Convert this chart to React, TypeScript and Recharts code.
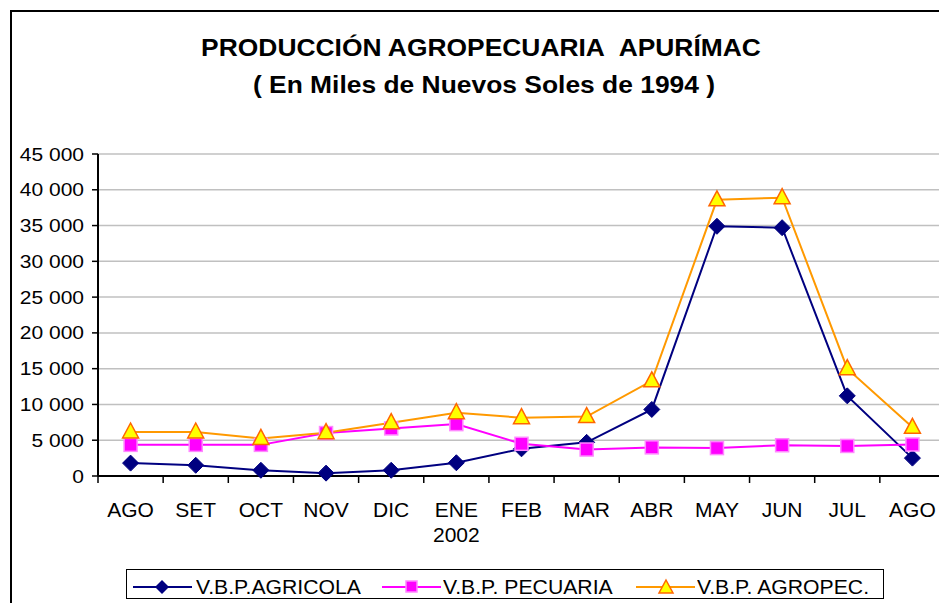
import React from "react";
import { LineChart, Line, XAxis, YAxis, CartesianGrid } from "recharts";

const months = ["AGO", "SET", "OCT", "NOV", "DIC", "ENE", "FEB", "MAR", "ABR", "MAY", "JUN", "JUL", "AGO"];
const subLabels = ["", "", "", "", "", "2002", "", "", "", "", "", "", ""];
const agricola = [1800, 1500, 800, 400, 800, 1850, 3800, 4700, 9300, 34900, 34700, 11200, 2500];
const pecuaria = [4350, 4350, 4350, 6000, 6650, 7250, 4500, 3700, 4000, 3900, 4300, 4200, 4400];
const agropec = [6150, 6150, 5250, 6050, 7450, 8850, 8150, 8300, 13300, 38600, 38900, 15000, 6800];
const yTicks = [0, 5000, 10000, 15000, 20000, 25000, 30000, 35000, 40000, 45000];

const data = months.map((m, i) => ({
  idx: i,
  month: m,
  sub: subLabels[i],
  agricola: agricola[i],
  pecuaria: pecuaria[i],
  agropec: agropec[i],
}));

const FONT = '"Liberation Sans", Arial, sans-serif';

const fmt = (v: number) => {
  if (v === 0) return "0";
  const s = String(v);
  return s.slice(0, s.length - 3) + " " + s.slice(-3);
};

const Diamond = (props: any) => {
  const { cx, cy } = props;
  if (cx == null || cy == null) return null;
  const r = 8;
  return <polygon points={`${cx},${cy - r} ${cx + r},${cy} ${cx},${cy + r} ${cx - r},${cy}`} fill="#000080" stroke="#000080" />;
};

const Square = (props: any) => {
  const { cx, cy } = props;
  if (cx == null || cy == null) return null;
  const s = 6.5;
  return <rect x={cx - s} y={cy - s} width={s * 2} height={s * 2} fill="#FF00FF" stroke="#FF88FF" strokeWidth={1.5} />;
};

const Triangle = (props: any) => {
  const { cx, cy } = props;
  if (cx == null || cy == null) return null;
  return <polygon points={`${cx},${cy - 9} ${cx + 8},${cy + 6} ${cx - 8},${cy + 6}`} fill="#FFFF00" stroke="#FF6600" strokeWidth={1.5} />;
};

const YTick = (props: any) => {
  const { x, y, payload } = props;
  return (
    <text transform={`translate(${x},${y + 6.5}) scale(1.2,1)`} textAnchor="end" fontSize={17.5} fontFamily={FONT} fill="#000">
      {fmt(payload.value)}
    </text>
  );
};

const XTick = (props: any) => {
  const { x, y, payload, index, width } = props;
  const half = (width || 847) / 26;
  const axisY = y - 8;
  const i = payload.value;
  return (
    <g>
      <line x1={x - half} x2={x - half} y1={axisY} y2={axisY + 7} stroke="#000" strokeWidth={1.5} />
      {index === months.length - 1 && (
        <line x1={x + half} x2={x + half} y1={axisY} y2={axisY + 7} stroke="#000" strokeWidth={1.5} />
      )}
      <text x={x} y={axisY + 41} textAnchor="middle" fontSize={21} fontFamily={FONT} fill="#000">
        {months[i]}
      </text>
      {subLabels[i] && (
        <text x={x} y={axisY + 66} textAnchor="middle" fontSize={21} fontFamily={FONT} fill="#000">
          {subLabels[i]}
        </text>
      )}
    </g>
  );
};

const legendItems = [
  { label: "V.B.P.AGRICOLA", color: "#000080", mark: "diamond", x: 133, tx: 196 },
  { label: "V.B.P. PECUARIA", color: "#FF00FF", mark: "square", x: 382, tx: 443 },
  { label: "V.B.P. AGROPEC.", color: "#FF9900", mark: "triangle", x: 636, tx: 697 },
];

const LegendMark = ({ mark, color }: { mark: string; color: string }) => (
  <svg width={59} height={20} style={{ position: "absolute", top: 0 }}>
    <line x1={0} x2={59} y1={10} y2={10} stroke={color} strokeWidth={2} />
    {mark === "diamond" && <polygon points="29,3 36,10 29,17 22,10" fill="#000080" />}
    {mark === "square" && <rect x={24} y={4} width={11} height={11} fill="#FF00FF" stroke="#FF88FF" strokeWidth={1.5} />}
    {mark === "triangle" && <polygon points="30,3 37,16 23,16" fill="#FFFF00" stroke="#FF6600" strokeWidth={1.5} />}
  </svg>
);

export default function App() {
  return (
    <div style={{ position: "fixed", left: 0, top: 0, width: 939, height: 603, overflow: "hidden", background: "#fff" }}>
      <div style={{ position: "absolute", left: 10, top: 10, width: 960, height: 640, border: "2px solid #000", boxSizing: "border-box" }} />
      <div style={{ position: "absolute", left: 0, width: 962, top: 36, textAlign: "center", fontFamily: FONT, fontWeight: "bold", fontSize: 24, lineHeight: "24px", transform: "scaleX(1.1)", transformOrigin: "481px 0" }}>
        PRODUCCIÓN AGROPECUARIA&nbsp; APURÍMAC
      </div>
      <div style={{ position: "absolute", left: 0, width: 968, top: 73, textAlign: "center", fontFamily: FONT, fontWeight: "bold", fontSize: 24, lineHeight: "24px", transform: "scaleX(1.1)", transformOrigin: "484px 0" }}>
        ( En Miles de Nuevos Soles de 1994 )
      </div>
      <div style={{ position: "absolute", left: 0, top: 0 }}>
        <LineChart width={955} height={603} data={data} margin={{ top: 154, right: 10, bottom: 67, left: 0 }}>
          <CartesianGrid vertical={false} stroke="#c0c0c0" strokeWidth={1.5} />
          <XAxis
            dataKey="idx"
            type="number"
            domain={[-0.5, 12.5]}
            ticks={months.map((_, i) => i)}
            interval={0}
            height={60}
            tickLine={false}
            tickSize={8}
            tickMargin={0}
            axisLine={{ stroke: "#000", strokeWidth: 2 }}
            tick={<XTick />}
          />
          <YAxis
            width={98}
            domain={[0, 45000]}
            ticks={yTicks}
            interval={0}
            tickSize={6}
            tickMargin={8}
            tickLine={{ stroke: "#000", strokeWidth: 1.5 }}
            axisLine={{ stroke: "#000", strokeWidth: 2 }}
            tick={<YTick />}
          />
          <Line type="linear" dataKey="agricola" stroke="#000080" strokeWidth={2} dot={<Diamond />} isAnimationActive={false} />
          <Line type="linear" dataKey="pecuaria" stroke="#FF00FF" strokeWidth={2} dot={<Square />} isAnimationActive={false} />
          <Line type="linear" dataKey="agropec" stroke="#FF9900" strokeWidth={2} dot={<Triangle />} isAnimationActive={false} />
        </LineChart>
      </div>
      <div style={{ position: "absolute", left: 126, top: 569, width: 758, height: 30, border: "1.5px solid #000", boxSizing: "border-box" }} />
      {legendItems.map((it) => (
        <React.Fragment key={it.label}>
          <div style={{ position: "absolute", left: it.x, top: 577 }}>
            <LegendMark mark={it.mark} color={it.color} />
          </div>
          <div style={{ position: "absolute", left: it.tx, top: 577, fontFamily: FONT, fontSize: 20, lineHeight: "20px", whiteSpace: "nowrap", transform: "scaleX(1.06)", transformOrigin: "0 0" }}>
            {it.label}
          </div>
        </React.Fragment>
      ))}
    </div>
  );
}
